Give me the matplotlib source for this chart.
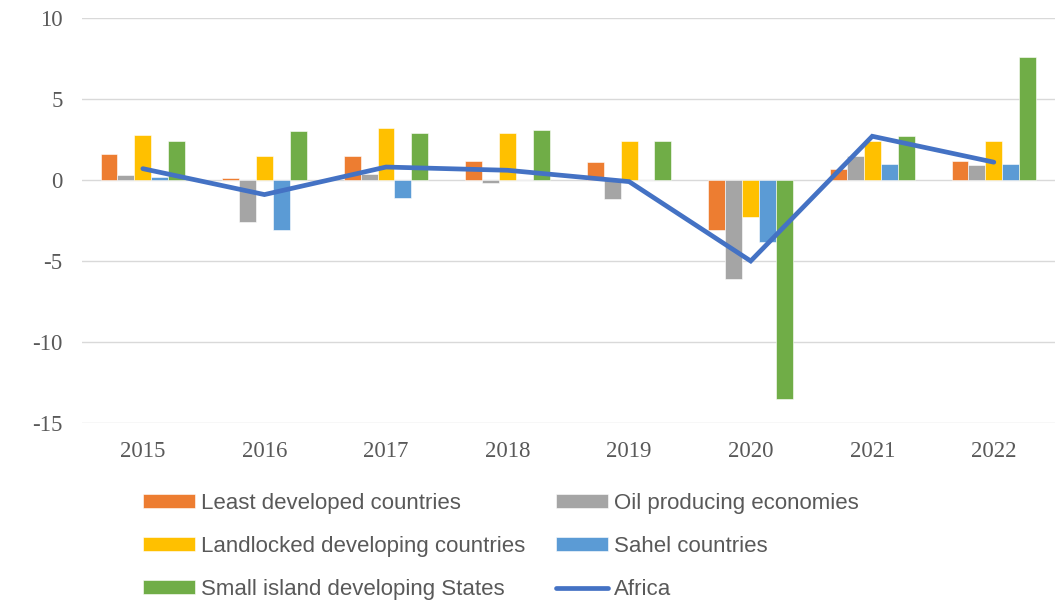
import matplotlib.pyplot as plt
import numpy as np

plt.rcParams["axes.unicode_minus"] = False

years = ["2015", "2016", "2017", "2018", "2019", "2020", "2021", "2022"]

least_developed = [1.6, 0.1, 1.5, 1.2, 1.1, -3.1, 0.7, 1.2]
oil_producing = [0.3, -2.6, 0.4, -0.2, -1.2, -6.1, 1.5, 0.9]
landlocked = [2.8, 1.5, 3.2, 2.9, 2.4, -2.3, 2.4, 2.4]
sahel = [0.2, -3.1, -1.1, 0.0, 0.0, -3.8, 1.0, 1.0]
small_island = [2.4, 3.0, 2.9, 3.1, 2.4, -13.5, 2.7, 7.6]
africa = [0.7, -0.9, 0.8, 0.6, -0.1, -5.0, 2.7, 1.1]

series = [
    ("Least developed countries", least_developed, "#ED7D31"),
    ("Oil producing economies", oil_producing, "#A5A5A5"),
    ("Landlocked developing countries", landlocked, "#FFC000"),
    ("Sahel countries", sahel, "#5B9BD5"),
    ("Small island developing States", small_island, "#70AD47"),
]

fig = plt.figure(figsize=(10.56, 6), dpi=100)
ax = fig.add_axes([0.0777, 0.295, 0.921, 0.675])

x = np.arange(len(years))
w = 0.139
handles = {}
for i, (name, vals, col) in enumerate(series):
    b = ax.bar(x + (i - 2) * w, vals, width=w, color=col, edgecolor="white",
               linewidth=0.4, zorder=2, label=name)
    handles[name] = b
line, = ax.plot(x, africa, color="#4472C4", lw=3.4, solid_capstyle="round",
                solid_joinstyle="miter", zorder=3, label="Africa")
handles["Africa"] = line

ax.set_xlim(-0.5, len(years) - 0.5)
ax.set_ylim(-15, 10)
ax.set_yticks([-15, -10, -5, 0, 5, 10])
ax.set_xticks(x)
ax.set_xticklabels(years)
ax.yaxis.grid(True, color="#D9D9D9", lw=1.0, zorder=0)
ax.set_axisbelow(True)
for s in ax.spines.values():
    s.set_visible(False)
ax.tick_params(axis="both", length=0, labelsize=16.5, labelcolor="#595959")
ax.tick_params(axis="y", pad=14)
ax.tick_params(axis="x", pad=13)
for lbl in ax.get_xticklabels() + ax.get_yticklabels():
    lbl.set_fontfamily("Liberation Serif")

# Excel fills the legend row by row, matplotlib column by column
order = ["Least developed countries", "Landlocked developing countries",
         "Small island developing States", "Oil producing economies",
         "Sahel countries", "Africa"]
leg = fig.legend([handles[k] for k in order], order, ncol=2, loc="upper left",
                 bbox_to_anchor=(0.1354, 0.179), frameon=False,
                 prop={"family": "Liberation Sans", "size": 16},
                 handlelength=2.34, handleheight=0.6, handletextpad=0.27,
                 columnspacing=1.4, labelspacing=1.0, borderpad=0,
                 borderaxespad=0)
for t in leg.get_texts():
    t.set_color("#595959")

fig.savefig("out.png", dpi=100)
